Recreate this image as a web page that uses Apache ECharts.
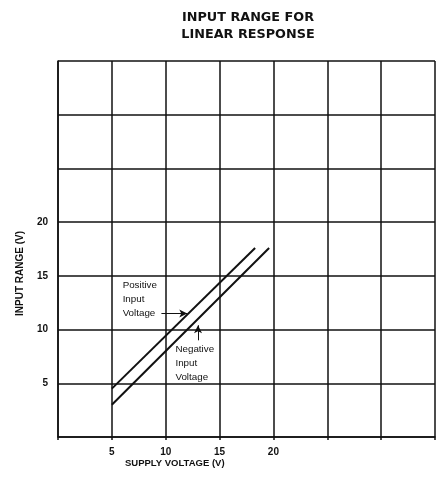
<!DOCTYPE html>
<html>
<head>
<meta charset="utf-8">
<script src="https://cdn.jsdelivr.net/npm/echarts@6/dist/echarts.min.js"></script>
<style>
  html, body { margin: 0; padding: 0; background: #fff; }
  #chart { width: 443px; height: 479px; }
</style>
</head>
<body>
<div id="chart"></div>
<script>
// 数据: 供电电压 vs 线性输入范围
const xTicks = [5, 10, 15, 20];
const yTicks = [5, 10, 15, 20];
const positiveLine = [[5, 4.5], [18.3, 17.6]];
const negativeLine = [[5, 3.0], [19.6, 17.6]];
// 注释位置(数据坐标)
const posLabelAt = [6.0, 12.85];
const negLabelAt = [10.9, 6.9];
const posArrow = [[9.6, 11.5], [12.0, 11.5]];
const negArrow = [[13.0, 9.0], [13.0, 10.4]];

const font = '"Liberation Sans", Arial, sans-serif';
const wideFont = '"DejaVu Sans", sans-serif';

const option = {
  animation: false,
  backgroundColor: '#fff',
  title: {
    text: 'INPUT RANGE FOR\nLINEAR RESPONSE',
    left: 243, top: 4,
    textAlign: 'center',
    textStyle: { fontFamily: wideFont, fontWeight: 'bold', fontSize: 12.8, lineHeight: 17, color: '#111' }
  },
  grid: { left: 58, right: 8, top: 61, bottom: 42 },
  xAxis: {
    type: 'value', min: 0, max: 35, interval: 5,
    axisLine: { lineStyle: { color: '#111', width: 1.5 } },
    axisTick: { show: true, length: 3, lineStyle: { color: '#111', width: 1.5 } },
    splitLine: { lineStyle: { color: '#111', width: 1.5 } },
    axisLabel: {
      margin: 10, color: '#111', fontFamily: font, fontWeight: 'bold', fontSize: 10,
      formatter: v => xTicks.includes(v) ? String(v) : ''
    }
  },
  yAxis: {
    type: 'value', min: 0, max: 35, interval: 5,
    axisLine: { lineStyle: { color: '#111', width: 1.5 } },
    axisTick: { show: false },
    splitLine: { lineStyle: { color: '#111', width: 1.5 } },
    axisLabel: {
      margin: 10, color: '#111', fontFamily: font, fontWeight: 'bold', fontSize: 10,
      formatter: v => yTicks.includes(v) ? String(v) : ''
    }
  },
  graphic: [
    {
      type: 'text', left: 125, top: 458,
      style: { text: 'SUPPLY VOLTAGE (V)', fontFamily: font, fontWeight: 'bold', fontSize: 9.5, fill: '#111' }
    },
    {
      type: 'text', x: 15, y: 316, rotation: Math.PI / 2,
      style: { text: 'INPUT RANGE (V)', fontFamily: font, fontWeight: 'bold', fontSize: 10, fill: '#111' }
    }
  ],
  series: [
    {
      name: 'Positive', type: 'line', data: positiveLine, symbol: 'none',
      lineStyle: { color: '#111', width: 2 },
      markPoint: {
        symbol: 'circle', symbolSize: 0,
        label: {
          show: true, position: 'right', distance: 0, align: 'left',
          formatter: 'Positive\nInput\nVoltage',
          fontFamily: font, fontSize: 9.8, lineHeight: 14, color: '#111'
        },
        data: [{ coord: posLabelAt }]
      },
      markLine: {
        silent: true, symbol: ['none', 'arrow'], symbolSize: [6, 8],
        label: { show: false },
        lineStyle: { color: '#111', width: 1, type: 'solid' },
        data: [
          [{ coord: posArrow[0] }, { coord: posArrow[1] }],
          [{ coord: negArrow[0] }, { coord: negArrow[1] }]
        ]
      }
    },
    {
      name: 'Negative', type: 'line', data: negativeLine, symbol: 'none',
      lineStyle: { color: '#111', width: 2 },
      markPoint: {
        symbol: 'circle', symbolSize: 0,
        label: {
          show: true, position: 'right', distance: 0, align: 'left',
          formatter: 'Negative\nInput\nVoltage',
          fontFamily: font, fontSize: 9.8, lineHeight: 14, color: '#111'
        },
        data: [{ coord: negLabelAt }]
      }
    }
  ]
};

const myChart = echarts.init(document.getElementById('chart'), null, { renderer: 'canvas' });
myChart.setOption(option);
</script>
</body>
</html>
